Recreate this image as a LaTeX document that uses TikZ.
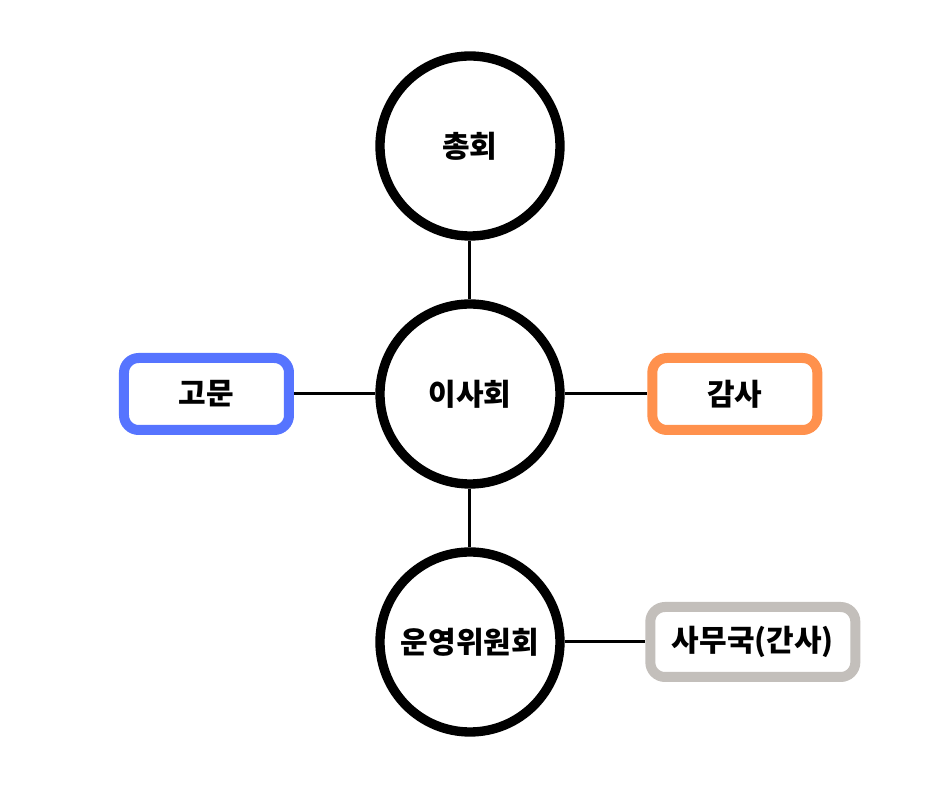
\documentclass[tikz,border=0pt]{standalone}
\usepackage{fontspec}
\setmainfont{Noto Sans CJK KR}[BoldFont={Noto Sans CJK KR Black}]
\usepackage{tikz}
\usetikzlibrary{positioning}
\definecolor{boxblue}{HTML}{5674FF}
\definecolor{boxorange}{HTML}{FF914D}
\definecolor{boxgray}{HTML}{C3BFBB}

\begin{document}
\begin{tikzpicture}[font=\fontsize{22.5}{26}\selectfont\bfseries,
   node distance=44pt and 61pt,
   org/.style={draw,circle,line width=7pt,minimum size=135pt,inner sep=0pt},
   side/.style={draw,rounded corners=11pt,line width=7.5pt,minimum width=123.75pt,
                minimum height=54pt,fill=white},
   link/.style={line width=2.25pt}]
  \useasboundingbox (-352.5pt,-295.5pt) rectangle (352.5pt,295.5pt);
  \node[org] (isa) at (0,0) {이사회};
  \node[org,above=of isa] (chong) {총회};
  \node[org,below=of isa] (unyeong) {운영위원회};
  \node[side,draw=boxblue,left=of isa] (gomun) {고문};
  \node[side,draw=boxorange,right=62pt of isa] (gamsa) {감사};
  \node[side,draw=boxgray,right=60.5pt of unyeong,minimum width=153.75pt,
        minimum height=52.5pt] (samu) {사무국(간사)};
  \draw[link] (chong) -- (isa);
  \draw[link] (isa) -- (unyeong);
  \draw[link] (gomun) -- (isa);
  \draw[link] (isa) -- (gamsa);
  \draw[link] (unyeong) -- (samu);
\end{tikzpicture}
\end{document}
